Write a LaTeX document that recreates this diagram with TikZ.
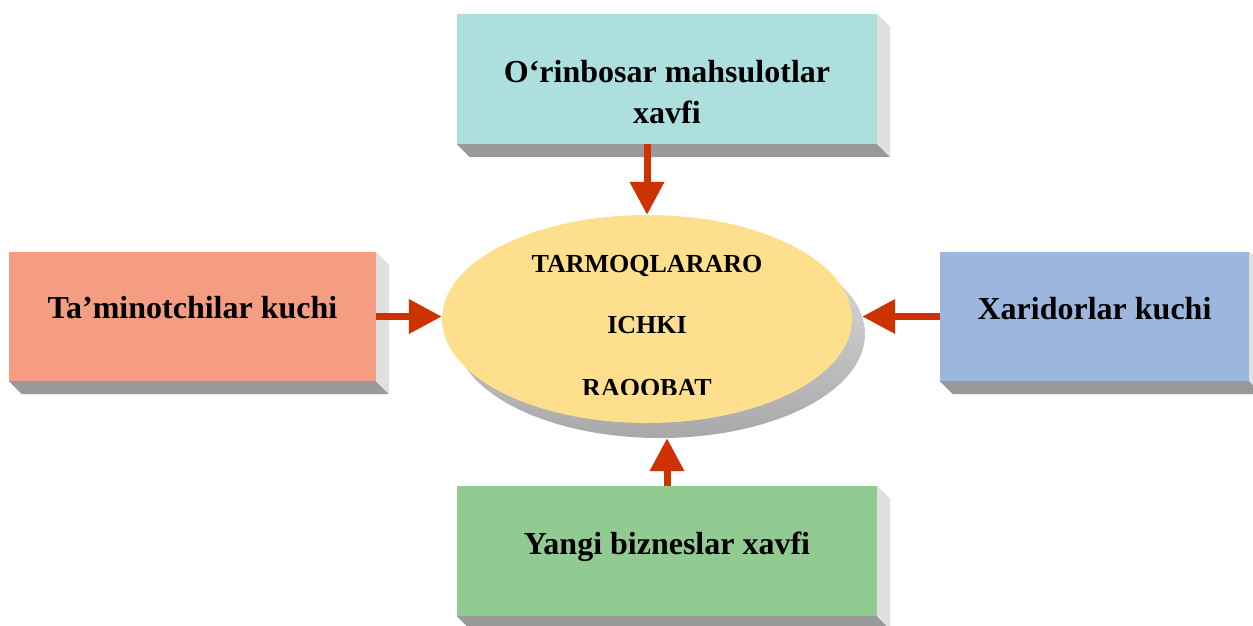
\documentclass[tikz,border=0pt]{standalone}
\usepackage{fontspec}
\setmainfont{Liberation Serif}
\usetikzlibrary{arrows.meta,shapes.geometric,calc}

\definecolor{faceTeal}{HTML}{AEDFDF}
\definecolor{faceSalmon}{HTML}{F49D82}
\definecolor{faceBlue}{HTML}{9CB6DE}
\definecolor{faceGreen}{HTML}{92CB92}
\definecolor{ovalFill}{HTML}{FDDF8E}
\definecolor{arrowRed}{HTML}{CC3300}
\definecolor{sideDark}{HTML}{999999}
\definecolor{sideLight}{HTML}{E0E0E0}

\tikzset{
  slab/.style={draw=none, inner sep=0pt, rectangle},
  boxtext/.style={font=\bfseries\fontsize{32}{38}\selectfont, inner sep=0pt, anchor=base},
  ovaltext/.style={font=\bfseries\fontsize{26}{31}\selectfont, inner sep=0pt, anchor=base},
  force/.style={draw=arrowRed, line width=7pt,
    -{Triangle[width=33pt,length=33pt]}, arrowRed},
}

% bottom and right faces of an extruded box
\newcommand\slabsides[1]{%
  \fill[sideDark] (#1.south west) -- (#1.south east) -- ++(13,13)
     -- ($(#1.south west)+(13,13)$) -- cycle;
  \fill[sideLight] (#1.north east) -- ++(13,13)
     -- ($(#1.south east)+(13,13)$) -- (#1.south east) -- cycle;
}

\begin{document}
\begin{tikzpicture}[x=1pt,y=-1pt]
  \useasboundingbox (0,0) rectangle (1253,625);

  % the four boxes
  \node[slab, fill=faceTeal, minimum width=420pt, minimum height=130pt] (top) at (667,79) {};
  \node[slab, fill=faceSalmon, minimum width=367pt, minimum height=129pt] (lft) at (192.5,316.5) {};
  \node[slab, fill=faceBlue, minimum width=309pt, minimum height=129pt] (rgt) at (1094.5,316.5) {};
  \node[slab, fill=faceGreen, minimum width=420pt, minimum height=130pt] (bot) at (667,551) {};
  \slabsides{top}
  \slabsides{lft}
  \slabsides{rgt}
  \slabsides{bot}

  % central oval with its shadow
  \node[ellipse, inner sep=0pt, minimum width=410pt, minimum height=208pt,
        top color=gray!22, bottom color=gray!68] (sh) at (660,334) {};
  \node[ellipse, inner sep=0pt, minimum width=410pt, minimum height=208pt,
        fill=ovalFill] (ell) at (647,319) {};

  % labels
  \node[boxtext] (tTopA) at (667,82) {O‘rinbosar mahsulotlar};
  \node[boxtext] (tTopB) at (667,123) {xavfi};
  \node[boxtext] (tLft) at (192.5,318) {Ta’minotchilar kuchi};
  \node[boxtext] (tRgt) at (1094.5,319) {Xaridorlar kuchi};
  \node[boxtext] (tBot) at (667,554) {Yangi bizneslar xavfi};

  % the oval's text area cuts off the foot of its last line
  \begin{scope}
    \clip (440,200) rectangle (860,394);
    \node[ovaltext] (oA) at (647,272) {TARMOQLARARO};
    \node[ovaltext] (oB) at (647,333) {ICHKI};
    \node[ovaltext] (oC) at (647,396) {RAQOBAT};
  \end{scope}

  % arrows
  \draw[force] (ell.north |- top.south) -- (ell.north);
  \draw[force] (bot.north) -- (bot.north |- sh.south);
  \draw[force] (lft.east) -- (lft.east -| ell.west);
  \draw[force] (rgt.west) -- ($(rgt.west -| sh.east)+(-3,0)$);
\end{tikzpicture}
\end{document}
